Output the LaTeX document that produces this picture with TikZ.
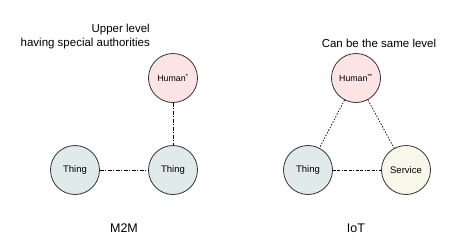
\documentclass[tikz,border=0pt]{standalone}
\usepackage{fontspec}
\setmainfont{Liberation Sans}
\definecolor{humanfill}{HTML}{FDE4E4}
\definecolor{thingfill}{HTML}{E0EAEA}
\definecolor{servfill}{HTML}{F7F7EA}
\definecolor{edge}{HTML}{333333}
\begin{document}
\begin{tikzpicture}[x=1pt,y=-1pt,
  ent/.style={circle,draw=edge,line width=0.8pt,minimum size=49pt,inner sep=0pt,font=\fontsize{9.5}{11}\selectfont},
  hum/.style={ent,fill=humanfill,font=\fontsize{8.8}{10}\selectfont},
  thg/.style={ent,fill=thingfill},
  srv/.style={ent,fill=servfill},
  dd/.style={line width=0.8pt,dash pattern=on 4pt off 1.5pt on 1pt off 1.5pt},
  dd2/.style={line width=0.8pt,dash pattern=on 3pt off 1.5pt on 3pt off 1.5pt on 1pt off 1.5pt},
  dt/.style={line width=0.7pt,dash pattern=on 1.5pt off 1.5pt},
  lbl/.style={font=\fontsize{11.5}{14}\selectfont,inner sep=0pt},
  ttl/.style={font=\fontsize{12.5}{15}\selectfont,inner sep=0pt}]
\useasboundingbox (0,0) rectangle (459,250);
% M2M
\node[hum] (h1) at (173,78) {Human\textsuperscript{*}};
\node[thg] (t1) at (75,170) {Thing};
\node[thg] (t2) at (173,170) {Thing};
\draw[dd] (h1) -- (t2);
\draw[dd] (t1) -- (t2);
\node[lbl,align=right,anchor=east] (up) at (150,37) {Upper level\\having special authorities};
\node[ttl] (m2m) at (124,228) {M2M};
% IoT
\node[hum] (h2) at (356,78) {Human\textsuperscript{**}};
\node[thg] (t3) at (308,170) {Thing};
\node[srv] (s1) at (406,170) {Service};
\draw[dt] (h2) -- (t3);
\draw[dt] (h2) -- (s1);
\draw[dd2] (t3) -- (s1);
\node[lbl] (same) at (379,43) {Can be the same level};
\node[ttl] (iot) at (356,228) {IoT};
\end{tikzpicture}
\end{document}
